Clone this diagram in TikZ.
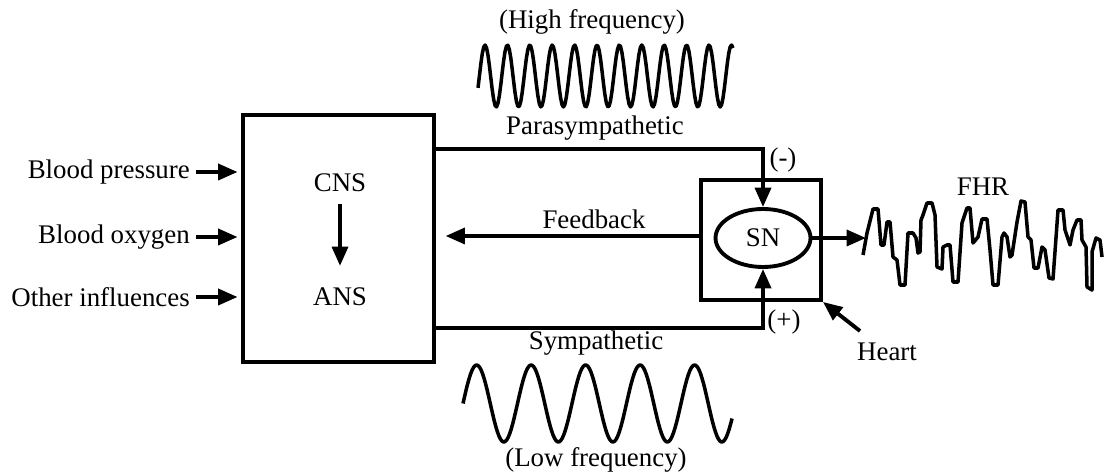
\documentclass[tikz,border=0pt]{standalone}
\usepackage{fontspec}
\setmainfont{Liberation Serif}
\usetikzlibrary{arrows.meta,shapes.geometric}
\begin{document}
\begin{tikzpicture}[x=0.02cm, y=-0.02cm,
    every node/.style={font=\fontsize{15.3}{18}\selectfont},
    blk/.style={draw, line width=2.2pt, inner sep=0pt},
    arr/.style={line width=2.2pt, -{Triangle[length=11pt,width=9pt]}},
    wave/.style={line width=2pt, line join=round}]
    \useasboundingbox (0,0) rectangle (1104,475);

    \node[blk, minimum width=3.82cm, minimum height=4.94cm] (brain) at (338.5,238.5) {};
    \node (cns) at (340,183) {CNS};
    \node (ans) at (340,297) {ANS};
    \node[blk, minimum width=2.4cm, minimum height=2.4cm] (heart) at (761,240) {};
    \node[blk, ellipse, minimum width=1.9cm, minimum height=1.16cm] (sn) at (763,238) {SN};

    \node[anchor=east] (bp) at (196,172) {Blood pressure};
    \node[anchor=east] (bo) at (196,237) {Blood oxygen};
    \node[anchor=east] (oi) at (196,297) {Other influences};
    \foreach \n in {bp,bo,oi}
        \draw[arr, shorten >=2pt] (\n.east) -- (\n.east -| brain.west);

    \draw[arr, shorten <=3pt, shorten >=9pt] (cns) -- (ans);

    \draw[arr] (brain.east |- 0,149) -| (sn.north);
    \draw[arr] (brain.east |- 0,328) -| (sn.south);
    \draw[arr, shorten >=5.5pt] (heart.west |- 0,236) -- (brain.east |- 0,236);

    \coordinate (fhr0) at (866,238);
    \draw[arr] (sn.east) -- (fhr0);
    \coordinate (heartarr) at (860,331);
    \draw[arr] (heartarr) -- (heart.south east);

    \node (para) at (595,128) {Parasympathetic};
    \node (symp) at (596,343) {Sympathetic};
    \node (fb) at (594,219) {Feedback};
    \node (neg) at (783,160) {(-)};
    \node (pos) at (784,322) {(+)};
    \node (fhr) at (983,187) {FHR};
    \node (heartlbl) at (887,352) {Heart};
    \node (hf) at (592,22) {(High frequency)};
    \node (lf) at (596,460) {(Low frequency)};

    \draw[wave] plot[domain=478:733, samples=180] (\x,{76-31*cos(16.071*(\x-485))});
    \draw[wave] plot[domain=463:732, samples=180] (\x,{403.5-38.5*sin(6.606*(\x-463))});
    \draw[wave] plot coordinates {(863,255) (867,233) (873,209) (878,209) (881,245)
        (884,245) (887,222) (890,222) (893,257) (897,260) (900,285) (905,285)
        (908,233) (913,233) (916,238) (918,253) (920,252) (921,220) (923,215)
        (927,203) (932,203) (935,215) (937,267) (942,269) (943,247) (947,245)
        (950,245) (953,282) (958,282) (962,223) (967,208) (970,208) (973,243)
        (978,237) (982,219) (987,219) (990,250) (993,285) (998,285) (1002,237)
        (1004,233) (1007,237) (1010,257) (1012,255) (1017,222) (1021,201)
        (1025,202) (1028,237) (1031,240) (1034,268) (1038,268) (1042,247)
        (1045,250) (1049,278) (1053,279) (1058,210) (1063,210) (1065,230)
        (1070,245) (1073,230) (1077,220) (1081,220) (1082,240) (1086,247)
        (1087,287) (1092,290) (1092,252) (1096,238) (1100,240) (1102,257)};
\end{tikzpicture}
\end{document}
